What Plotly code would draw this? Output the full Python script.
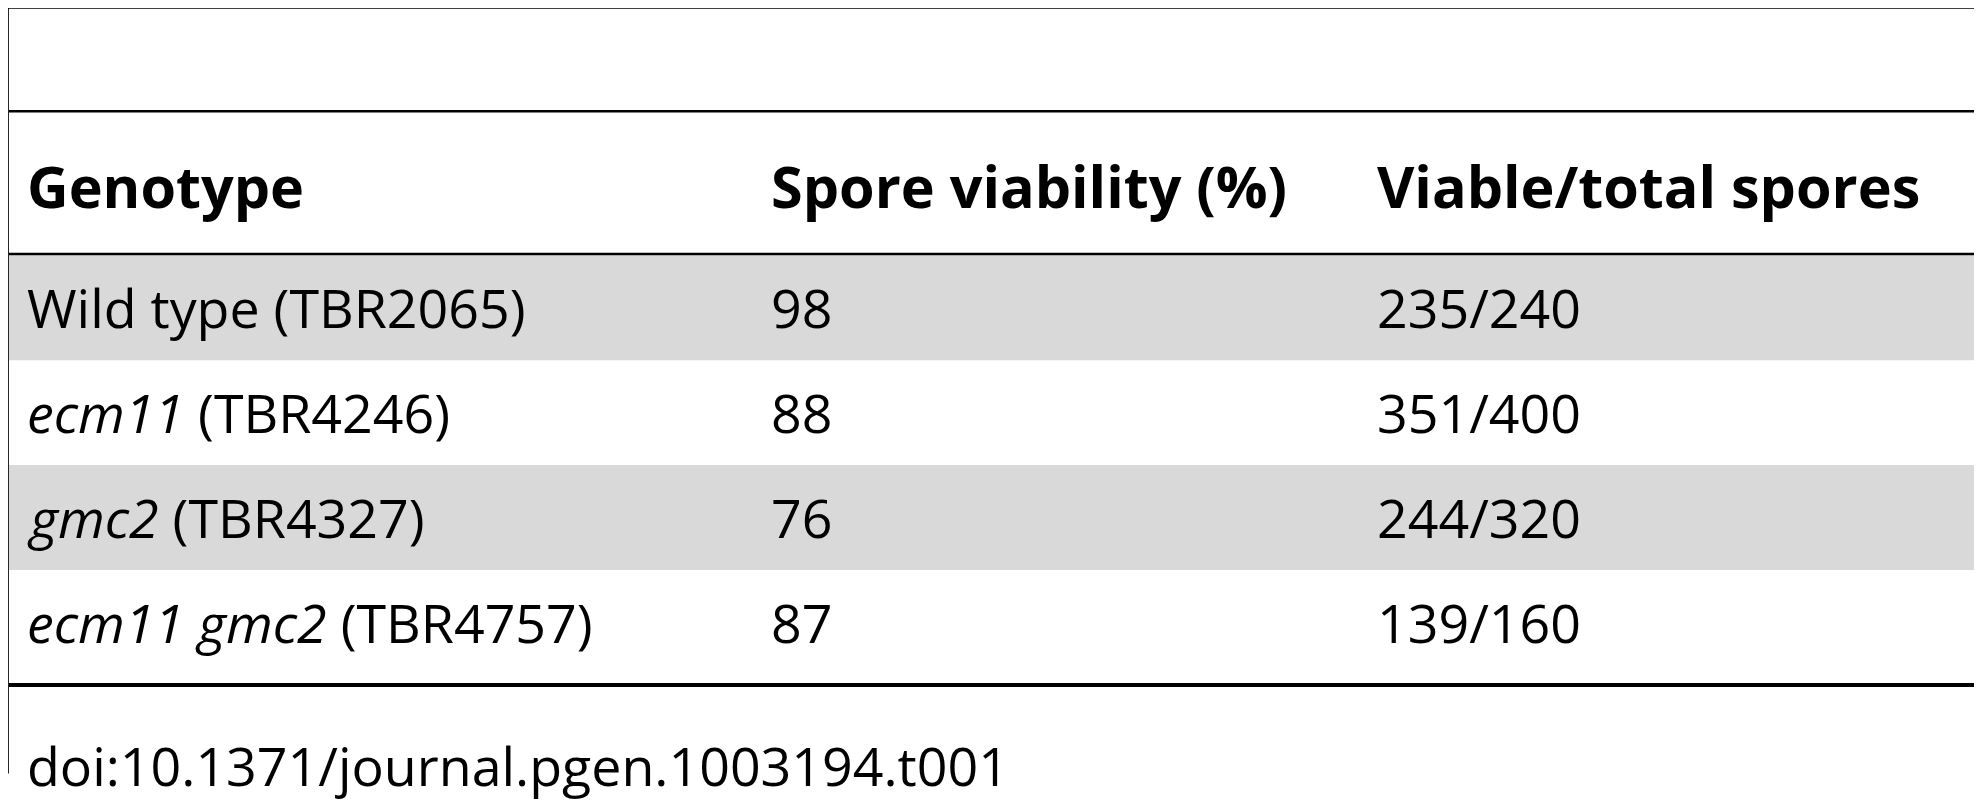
import plotly.graph_objects as go

headers = ['Genotype', 'Spore viability (%)', 'Viable/total spores']
genotypes = ['Wild type (TBR2065)', '<i>ecm11</i> (TBR4246)', '<i>gmc2</i> (TBR4327)',
             '<i>ecm11 gmc2</i> (TBR4757)']
viability = ['98', '88', '76', '87']
counts = ['235/240', '351/400', '244/320', '139/160']
footer = 'doi:10.1371/journal.pgen.1003194.t001'

S = 1982 / 1568  # reference pixels -> output pixels
off = 8 / S      # compensate page body margin
col_x = [20, 608, 1088]
row_top, row_h = 202, 83
fs = 42.5 * S
fs_head = 45.5 * S

fig = go.Figure()
shapes = []
ann = []

# frame lines
shapes.append(dict(type='rect', x0=0, x1=1580, y0=0, y1=7, fillcolor='black', line_width=0))
shapes.append(dict(type='rect', x0=0, x1=7, y0=0, y1=612, fillcolor='black', line_width=0))
shapes.append(dict(type='line', x0=7, x1=1580, y0=88, y1=88, line=dict(color='black', width=2 * S)))
shapes.append(dict(type='line', x0=7, x1=1580, y0=201, y1=201, line=dict(color='black', width=2 * S)))
end = row_top + row_h * len(genotypes)
shapes.append(dict(type='line', x0=7, x1=1580, y0=end + 8, y1=end + 8, line=dict(color='black', width=3 * S)))

for i, h in enumerate(headers):
    ann.append(dict(x=col_x[i], y=147, text='<b>' + h + '</b>', xanchor='left', yanchor='middle',
                    showarrow=False, font=dict(size=fs_head, color='black')))

for r, row in enumerate(zip(genotypes, viability, counts)):
    y0 = row_top + r * row_h
    if r % 2 == 0:
        shapes.append(dict(type='rect', x0=7, x1=1580, y0=y0, y1=y0 + row_h,
                           fillcolor='#d9d9d9', line_width=0, layer='below'))
    for i, t in enumerate(row):
        ann.append(dict(x=col_x[i], y=y0 + row_h / 2, text=t, xanchor='left', yanchor='middle',
                        showarrow=False, font=dict(size=fs, color='black')))

ann.append(dict(x=20, y=606, text=footer, xanchor='left', yanchor='middle',
                showarrow=False, font=dict(size=fs, color='black')))

fig.update_layout(
    width=1982, height=800, margin=dict(l=0, r=0, t=0, b=0),
    plot_bgcolor='white', paper_bgcolor='white',
    font=dict(family='Open Sans'),
    shapes=shapes, annotations=ann,
    xaxis=dict(range=[off, 1568 + off], visible=False, fixedrange=True),
    yaxis=dict(range=[633 + off, off], visible=False, fixedrange=True),
)

fig.write_html("out.html")
